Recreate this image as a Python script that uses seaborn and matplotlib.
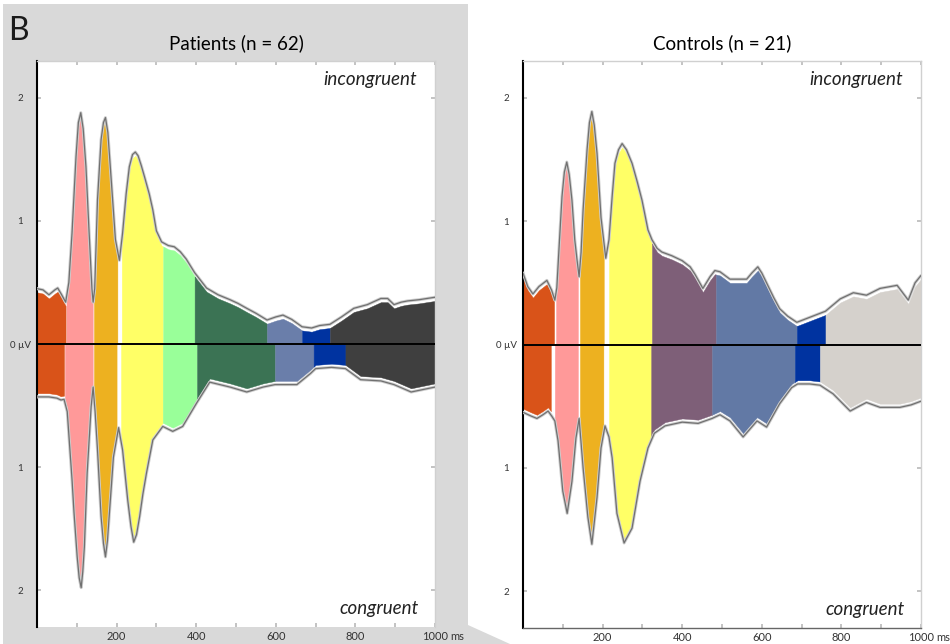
import numpy as np
import matplotlib
matplotlib.use("Agg")
import matplotlib.pyplot as plt
import seaborn as sns
from matplotlib.patches import Polygon

sns.set_theme(style="white")
plt.rcParams['font.family'] = ['Lato', 'DejaVu Sans']

# ---------------- data ----------------
# Patients: incongruent (upper) envelope, µV
pat_up_t = [0, 15, 30, 45, 52, 62, 72, 80, 88, 98, 104, 110, 116, 123, 131, 138, 141, 145, 152, 161,
            167, 172, 178, 187, 197, 207, 215, 224, 232, 240, 247, 254, 262, 270, 282, 291, 300, 313, 330, 345,
            360, 375, 396, 426, 455, 485, 505, 527, 550, 578, 600, 618, 640, 666, 690, 710, 736, 765, 796, 830,
            864, 881, 897, 915, 931, 960, 1000]
pat_up_a = [0.45, 0.44, 0.40, 0.44, 0.455, 0.40, 0.34, 0.50, 0.90, 1.52, 1.80, 1.88, 1.75, 1.44, 0.90, 0.45, 0.34, 0.45, 1.17, 1.66,
            1.80, 1.84, 1.72, 1.31, 0.85, 0.68, 0.90, 1.22, 1.44, 1.54, 1.56, 1.53, 1.45, 1.36, 1.22, 1.09, 0.92, 0.83, 0.80, 0.79,
            0.75, 0.69, 0.58, 0.455, 0.40, 0.36, 0.33, 0.29, 0.25, 0.195, 0.22, 0.235, 0.20, 0.14, 0.13, 0.15, 0.16, 0.22, 0.29, 0.32,
            0.37, 0.37, 0.32, 0.34, 0.35, 0.36, 0.38]
# Patients: congruent (lower) envelope
pat_lo_t = [0, 30, 50, 60, 68, 76, 81, 88, 93, 101, 106, 111, 115, 119, 126, 136, 141, 146, 152, 161,
            167, 172, 177, 182, 192, 205, 215, 222, 228, 236, 243, 250, 258, 266, 275, 291, 316, 341, 366, 401,
            434, 485, 527, 568, 598, 653, 687, 700, 740, 775, 813, 864, 897, 940, 970, 1000]
pat_lo_a = [-0.43, -0.43, -0.44, -0.455, -0.45, -0.55, -0.78, -1.10, -1.37, -1.73, -1.90, -1.98, -1.85, -1.65, -1.05, -0.51, -0.35, -0.55, -0.86, -1.40,
            -1.62, -1.73, -1.60, -1.37, -0.92, -0.68, -0.86, -1.08, -1.27, -1.48, -1.61, -1.55, -1.40, -1.22, -1.05, -0.78, -0.67, -0.71, -0.67, -0.48,
            -0.31, -0.35, -0.39, -0.35, -0.33, -0.33, -0.24, -0.20, -0.19, -0.20, -0.29, -0.30, -0.33, -0.39, -0.37, -0.35]
pat_colors = ["#D95319", "#FF9999", "#EDB120", "#FFFF66", "#99FF99", "#3B7354", "#6A7EAA", "#0033A0", "#3F3F3F"]
pat_top_start = [0, 74, 143, 213, 317, 396, 578, 666, 736]
pat_top_end = [72, 140, 202, 316, 396, 578, 666, 736, 1000]
pat_bot_start = [0, 70, 143, 211, 316, 402, 598, 695, 775]
pat_bot_end = [68, 140, 200, 316, 402, 598, 695, 775, 1000]

# Controls
con_up_t = [0, 12, 25, 40, 60, 72, 80, 85, 90, 98, 104, 110, 116, 123, 130, 136, 141, 146, 151, 161,
            167, 173, 179, 186, 196, 208, 216, 224, 231, 240, 249, 260, 274, 287, 299, 314, 324, 337, 349, 374,
            400, 420, 432, 452, 470, 482, 495, 520, 562, 575, 590, 600, 612, 630, 645, 665, 688, 720, 760, 797,
            830, 863, 897, 940, 968, 985, 1000]
con_up_a = [0.58, 0.47, 0.41, 0.47, 0.52, 0.44, 0.36, 0.46, 0.75, 1.20, 1.40, 1.48, 1.38, 1.17, 0.85, 0.68, 0.55, 0.75, 1.09, 1.58,
            1.80, 1.89, 1.78, 1.55, 1.03, 0.70, 0.85, 1.20, 1.47, 1.58, 1.63, 1.58, 1.47, 1.32, 1.17, 0.93, 0.85, 0.78, 0.75, 0.72,
            0.68, 0.63, 0.57, 0.455, 0.55, 0.60, 0.59, 0.53, 0.53, 0.58, 0.63, 0.58, 0.50, 0.38, 0.29, 0.23, 0.18, 0.22, 0.27, 0.37,
            0.42, 0.40, 0.455, 0.48, 0.36, 0.50, 0.56]
con_lo_t = [0, 20, 35, 50, 63, 72, 80, 88, 100, 111, 123, 133, 141, 151, 163, 173, 186, 196, 206, 216,
            224, 236, 254, 274, 294, 314, 330, 357, 400, 440, 475, 495, 520, 553, 588, 612, 645, 675, 690, 720,
            746, 779, 822, 845, 863, 897, 947, 975, 1000]
con_lo_a = [-0.55, -0.58, -0.60, -0.57, -0.54, -0.58, -0.62, -0.78, -1.19, -1.37, -1.11, -0.76, -0.60, -1.00, -1.40, -1.62, -1.24, -0.84, -0.66, -0.75,
            -0.92, -1.37, -1.61, -1.49, -1.11, -0.84, -0.72, -0.66, -0.63, -0.64, -0.60, -0.57, -0.62, -0.75, -0.62, -0.67, -0.48, -0.35, -0.32, -0.32,
            -0.33, -0.40, -0.54, -0.50, -0.47, -0.51, -0.51, -0.49, -0.46]
con_colors = ["#D95319", "#FF9999", "#EDB120", "#FFFF66", "#7E5F78", "#6279A5", "#0033A0", "#D5D1CC"]
con_top_start = [0, 83, 143, 216, 324, 485, 688, 760]
con_top_end = [78, 138, 203, 324, 485, 688, 760, 1000]
con_bot_start = [0, 80, 143, 216, 322, 475, 683, 746]
con_bot_end = [70, 138, 202, 322, 475, 683, 746, 1000]

x_ticks = [100, 200, 300, 400, 500, 600, 700, 800, 900, 1000]
x_labels = ["", "200", "", "400", "", "600", "", "800", "", "1000"]
y_ticks = [-2, -1, 0, 1, 2]
y_labels = ["2", "1", "0 \u00b5V", "1", "2"]

# ---------------- figure ----------------
W, H = 950, 644
fig = plt.figure(figsize=(W / 100, H / 100), dpi=100)
fig.patch.set_facecolor("white")

bg = [(3, 4), (468, 4), (468, 625), (510, 644), (3, 644)]
fig.patches.append(Polygon([(x / W, 1 - y / H) for x, y in bg], closed=True,
                           transform=fig.transFigure, facecolor="#D9D9D9",
                           edgecolor="none", zorder=-10))

fig.text(8 / W, 1 - 31 / H, "B", fontsize=23, fontweight="normal", color="#1a1a1a",
         ha="left", va="center")


def fill_segments(ax, t, a, starts, ends, colors, off):
    t = np.asarray(t, float)
    a = np.asarray(a, float)
    for c, s, e in zip(colors, starts, ends):
        m = (t > s) & (t < e)
        tt = np.concatenate([[s], t[m], [e]])
        yy = np.interp(tt, t, a)
        yy = np.sign(yy) * np.clip(np.abs(yy) - off, 0, None)
        ax.fill_between(tt, 0, yy, color=c, lw=0.3, edgecolor=c, zorder=2)


def panel(rect, title, up_t, up_a, lo_t, lo_a, colors, ts, te, bs, be, bottom_spine):
    ax = fig.add_axes(rect)
    ax.set_facecolor("white")
    off = 0.03
    fill_segments(ax, up_t, up_a, ts, te, colors, off)
    fill_segments(ax, lo_t, lo_a, bs, be, colors, off)
    for tt, aa in ((up_t, up_a), (lo_t, lo_a)):
        sns.lineplot(x=tt, y=aa, ax=ax, color="#CDCDCD", lw=2.2, estimator=None,
                     sort=False, zorder=3)
        sns.lineplot(x=tt, y=aa, ax=ax, color="#707070", lw=0.9, estimator=None,
                     sort=False, zorder=4)
    ax.axhline(0, color="black", lw=1.4, zorder=5)
    ax.set_xlim(0, 1000)
    ax.set_ylim(-2.3, 2.3)
    ax.set_xticks(x_ticks)
    ax.set_xticklabels(x_labels)
    ax.set_yticks(y_ticks)
    ax.set_yticklabels(y_labels, ha="center")
    ax.tick_params(axis="x", which="both", direction="in", length=3, color="#BBBBBB",
                   top=True, bottom=True, labelsize=8, labelcolor="#333333", pad=3)
    ax.tick_params(axis="y", which="both", direction="in", length=3, color="#BBBBBB",
                   left=True, right=True, labelsize=7, labelcolor="#333333", pad=12)
    ax.annotate("ms", xy=(1000, 0), xycoords=("data", "axes fraction"),
                xytext=(11, -3), textcoords="offset points", ha="left", va="top",
                fontsize=8, color="#333333")
    for s in ("top", "right"):
        ax.spines[s].set_color("#D0D0D0")
        ax.spines[s].set_linewidth(1.0)
    ax.spines["left"].set_color("black")
    ax.spines["left"].set_linewidth(1.5)
    if bottom_spine:
        ax.spines["bottom"].set_color("#666666")
        ax.spines["bottom"].set_linewidth(1.0)
    else:
        ax.spines["bottom"].set_visible(False)
    ax.set_xlabel("")
    ax.set_ylabel("")
    ax.text(955, 2.15, "incongruent", style="italic", fontsize=13.5, color="#222222",
            ha="right", va="center", zorder=6)
    ax.text(960, -2.15, "congruent", style="italic", fontsize=13.5, color="#222222",
            ha="right", va="center", zorder=6)
    ax.text(0.5, 1 + 18 / 566, title, transform=ax.transAxes, fontsize=13.5,
            color="black", ha="center", va="center")
    return ax


panel([37 / W, 17 / H, 398 / W, 566 / H], "Patients (n = 62)",
      pat_up_t, pat_up_a, pat_lo_t, pat_lo_a, pat_colors,
      pat_top_start, pat_top_end, pat_bot_start, pat_bot_end, False)
panel([523 / W, 16 / H, 398 / W, 567 / H], "Controls (n = 21)",
      con_up_t, con_up_a, con_lo_t, con_lo_a, con_colors,
      con_top_start, con_top_end, con_bot_start, con_bot_end, True)

fig.savefig("out.png", dpi=100)
